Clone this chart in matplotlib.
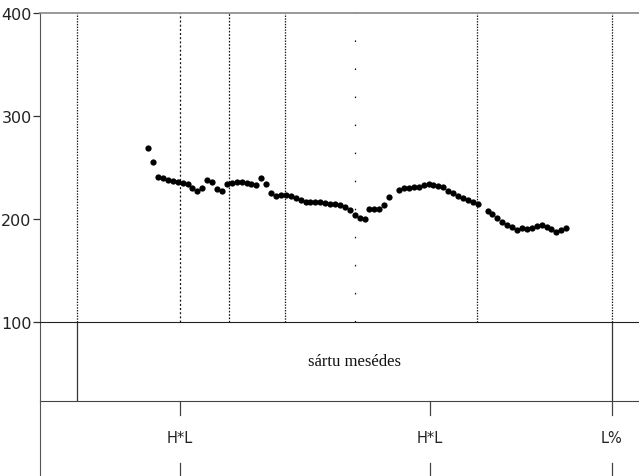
import numpy as np
import matplotlib
matplotlib.use("Agg")
import matplotlib.pyplot as plt

plt.rcParams['lines.scale_dashes'] = False
plt.rcParams['font.family'] = 'DejaVu Sans'

# pitch track (Hz), one frame every 10 ms, None = unvoiced frame
t_start = 0.22
f0 = [268.6, 255.3, 241.1, 239.5, 238.2, 236.9, 235.6, 235.0, 234.3, 230.4,
      226.9, 230.1, 238.2, 235.9, 229.1, 227.5, 233.7, 235.2, 235.9, 235.6,
      235.0, 234.0, 232.7, 239.5, 234.3, 225.0, 222.6, 223.3, 223.1, 222.6,
      220.4, 218.4, 216.2, 216.2, 216.2, 216.2, 215.8, 214.9, 214.3, 213.3,
      211.9, 209.0, 203.9, 200.7, 200.0, 209.7, 209.7, 209.7, 213.6, 221.4,
      None, 228.4, 229.9, 229.7, 230.6, 231.4, 232.7, 234.0, 233.3, 232.3,
      231.1, 227.5, 225.0, 222.6, 220.2, 218.0, 216.2, 214.1, None, 207.5,
      204.9, 201.3, 196.9, 194.4, 192.0, 189.8, 191.0, 190.3, 191.5, 193.5,
      193.9, 191.9, 190.0, 187.2, 189.3, 191.0]
f0 = np.array([np.nan if v is None else v for v in f0])
t = t_start + 0.01 * np.arange(len(f0))

t_end = 1.218
segment_lines = [0.075, 0.285, 0.384, 0.498, 0.640, 0.888, 1.163]
word_bounds = [0.075, 1.163]
word_text = "sártu mesédes"
word_pos = 0.640
tone_times = [0.285, 0.793, 1.163]
tone_labels = ["H*L", "H*L", "L%"]

W, H = 639, 477
fig = plt.figure(figsize=(W / 100, H / 100), dpi=100)

def box(top, bottom):
    return [40 / W, 1 - bottom / H, 1 - 40 / W, (bottom - top) / H]

# word tier
ax2 = fig.add_axes(box(323, 402))
ax2.patch.set_visible(False)
ax2.set_xlim(0, t_end)
ax2.set_ylim(0, 1)
for x in word_bounds:
    ax2.axvline(x, color='#333333', lw=0.9)
ax2.text(word_pos, 0.5, word_text, ha='center', va='center', fontsize=12,
         family='Liberation Serif', color='#111111')
ax2.set_xticks([])
ax2.set_yticks([])
ax2.spines['right'].set_visible(False)
ax2.spines['top'].set_visible(False)
ax2.spines['left'].set_color('#555555')
ax2.spines['bottom'].set_color('#444444')

# tone tier
ax3 = fig.add_axes(box(402, 477))
ax3.patch.set_visible(False)
ax3.set_xlim(0, t_end)
ax3.set_ylim(0, 75)
for x, lab in zip(tone_times, tone_labels):
    ax3.plot([x, x], [75, 61], color='#444444', lw=0.9)
    ax3.plot([x, x], [13, 0], color='#444444', lw=0.9)
    ax3.text(x, 38, lab, ha='center', va='center', fontsize=10.5, color='#222222')
ax3.set_xticks([])
ax3.set_yticks([])
for s in ['right', 'top', 'bottom']:
    ax3.spines[s].set_visible(False)
ax3.spines['left'].set_color('#555555')

# pitch panel
ax = fig.add_axes(box(14, 323))
ax.patch.set_visible(False)
styles = [(0, (1.0, 1.0)), (0, (1.4, 1.6)), (0, (1.2, 1.2)), (0, (1.0, 1.0)),
          (0, (1.1, 19.1)), (0, (1.0, 1.0)), (0, (1.0, 1.0))]
for x, ls in zip(segment_lines, styles):
    ax.axvline(x, color='#111111', lw=0.9, ls=ls)
ax.plot(t, f0, 'o', color='black', ms=4.5, mec='none')
ax.set_xlim(0, t_end)
ax.set_ylim(100, 400)
ax.set_yticks([100, 200, 300, 400])
ax.tick_params(axis='y', direction='out', length=5, width=0.9, colors='#333333',
               labelsize=11.5, labelcolor='#222222', pad=1)
ax.set_xticks([])
ax.spines['right'].set_visible(False)
ax.spines['left'].set_color('#555555')
ax.spines['top'].set_color('#888888')
ax.spines['top'].set_linewidth(1.2)
ax.spines['bottom'].set_color('#222222')

fig.savefig('out.png', dpi=100)
